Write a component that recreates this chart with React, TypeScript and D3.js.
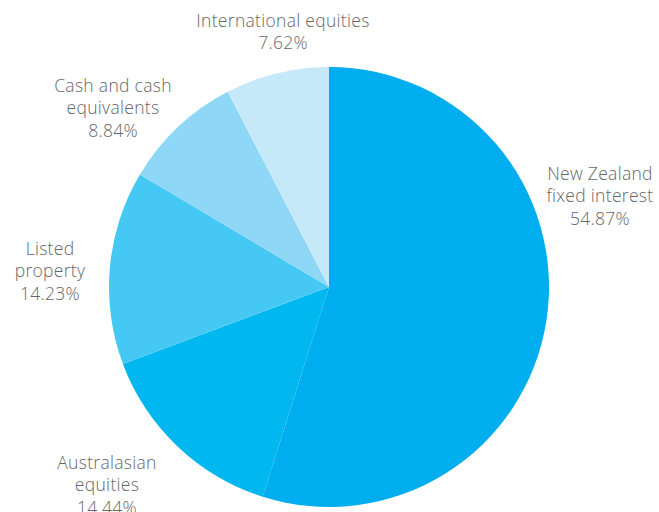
import { useEffect, useRef } from "react";
import * as d3 from "d3";

const categories = [
  ["New Zealand", "fixed interest"],
  ["Australasian", "equities"],
  ["Listed", "property"],
  ["Cash and cash", "equivalents"],
  ["International equities"],
];
const values = [54.87, 14.44, 14.23, 8.84, 7.62];
const colors = ["#00aeef", "#00b7f0", "#46c8f5", "#8fd7f7", "#c6e9fa"];
// label block centres, relative to the pie centre
const labelOffsets = [
  [271, -91],
  [-222, 198],
  [-279, -16],
  [-216, -179],
  [-46, -255],
];

function App() {
  const ref = useRef<SVGSVGElement>(null);

  useEffect(() => {
    const w = 659;
    const h = 512;
    const cx = 329;
    const cy = 287;
    const r = 220;

    const svg = d3.select(ref.current).attr("width", w).attr("height", h);
    svg.selectAll("*").remove();

    const pie = d3.pie<number>().sort(null).value((d) => d);
    const arc = d3.arc<d3.PieArcDatum<number>>().innerRadius(0).outerRadius(r);

    const g = svg.append("g").attr("transform", `translate(${cx},${cy})`);

    g.selectAll("path")
      .data(pie(values))
      .join("path")
      .attr("d", (d) => arc(d))
      .attr("fill", (d, i) => colors[i]);

    const lineH = 22.5;
    const labels = g
      .selectAll("text.label")
      .data(pie(values))
      .join("text")
      .attr("class", "label")
      .attr("text-anchor", "middle")
      .attr("font-family", "'Open Sans', sans-serif")
      .attr("font-weight", 300)
      .attr("font-size", 17.5)
      .attr("letter-spacing", 0.3)
      .attr("fill", "#666769");

    labels.each(function (d, i) {
      const lines = [...categories[i], `${d3.format(".2f")(values[i])}%`];
      const [ox, oy] = labelOffsets[i];
      const top = oy - ((lines.length - 1) * lineH) / 2;
      d3.select(this)
        .selectAll("tspan")
        .data(lines)
        .join("tspan")
        .attr("x", ox)
        .attr("y", (_, j) => top + j * lineH)
        .attr("dy", "0.35em")
        .text((t) => t);
    });
  }, []);

  return (
    <svg
      ref={ref}
      width={659}
      height={512}
      style={{ position: "absolute", left: 0, top: 0 }}
    />
  );
}

export default App;
